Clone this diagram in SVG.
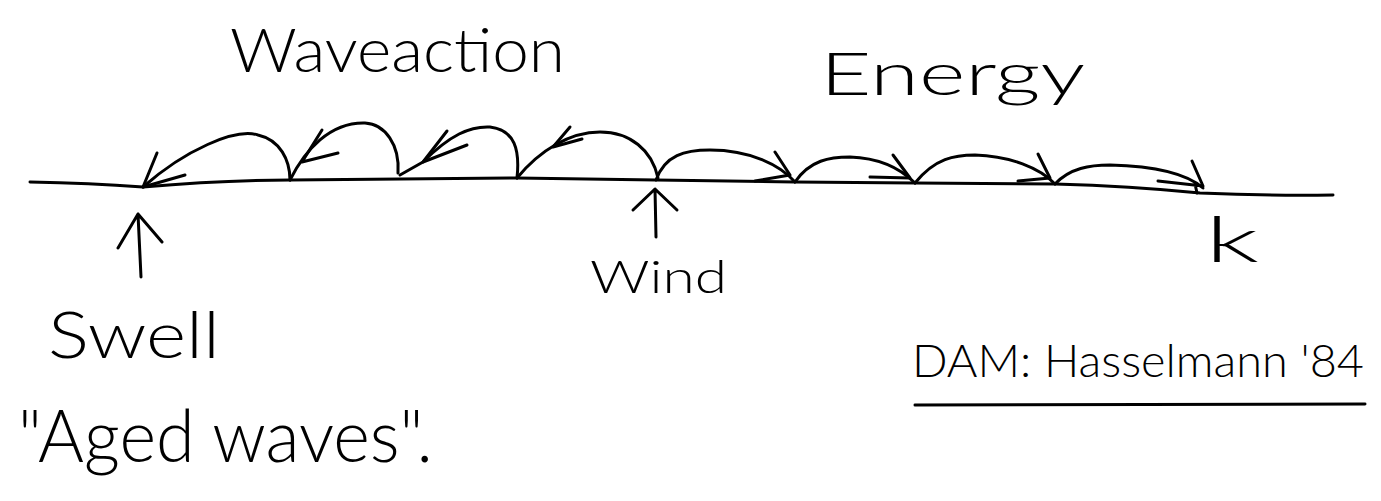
<svg xmlns="http://www.w3.org/2000/svg" width="1381" height="501" viewBox="0 0 1381 501">
<style>
.ln{fill:none;stroke:#000;stroke-width:3;stroke-linecap:round;stroke-linejoin:round}
.tx{font-family:"Lato","Open Sans","Liberation Sans",sans-serif;font-weight:300;fill:#000}
</style>
<rect width="1381" height="501" fill="#fff"/>
<g id="axis">
<path class="ln" d="M30,182 Q90,183 143,187 Q220,180 290,180 L517,178 L656,180 L795,182 L915,183 L1055,184 Q1130,186 1200,193 Q1270,196 1333,195"/>
</g>
<g id="connectors">
<!-- waveaction arcs (leftward) -->
<path class="ln" d="M290,180 C290,160 280,140 258,135 C235,128 185,150 143,187"/>
<path class="ln" d="M143,187 L157,153 M143,187 L185,175"/>
<path class="ln" d="M290,180 C305,150 330,122 365,123 C385,124 400,145 398,173"/>
<path class="ln" d="M302,162 L322,130 M302,162 L338,153"/>
<path class="ln" d="M400,175 L423,162 C450,135 470,126 490,127 C515,130 520,150 517,178"/>
<path class="ln" d="M423,162 L447,131 M423,162 L467,145"/>
<path class="ln" d="M517,178 C540,150 570,132 600,132 C630,132 652,150 658,178"/>
<path class="ln" d="M553,147 L570,127 M553,147 L582,139"/>
<!-- energy arcs (rightward) -->
<path class="ln" d="M656,180 C665,155 685,150 710,150 C750,150 780,165 795,182"/>
<path class="ln" d="M790,175 L775,152 M790,175 L755,181"/>
<path class="ln" d="M795,182 C810,160 830,157 850,157 C880,158 900,168 915,183"/>
<path class="ln" d="M910,178 L893,155 M910,178 L870,177"/>
<path class="ln" d="M915,183 C935,158 955,155 975,155 C1010,156 1040,168 1055,184"/>
<path class="ln" d="M1050,178 L1038,154 M1050,178 L1018,181"/>
<path class="ln" d="M1055,184 C1070,168 1090,165 1110,165 C1150,166 1185,172 1203,188"/>
<path class="ln" d="M1203,186 L1192,161 M1203,186 L1158,181 M1195,184 L1197,193"/>
<!-- up arrows -->
<path class="ln" d="M141,277 L138,214 M118,248 L138,214 L162,242"/>
<path class="ln" d="M656,237 L655,189 M633,210 L655,189 L677,210"/>
</g>
<g id="labels">
<text class="tx" x="230" y="72" font-size="62" textLength="335" lengthAdjust="spacingAndGlyphs">Waveaction</text>
<text class="tx" x="820" y="95" font-size="60" textLength="265" lengthAdjust="spacingAndGlyphs">Energy</text>
<text class="tx" x="1205" y="262" font-size="64" textLength="54" lengthAdjust="spacingAndGlyphs">k</text>
<text class="tx" x="590" y="293" font-size="46" textLength="137" lengthAdjust="spacingAndGlyphs">Wind</text>
<text class="tx" x="48" y="358" font-size="66" textLength="172" lengthAdjust="spacingAndGlyphs">Swell</text>
<text class="tx" x="18" y="462" font-size="72" textLength="415" lengthAdjust="spacingAndGlyphs">"Aged waves".</text>
<text class="tx" x="912" y="377" font-size="46" textLength="452" lengthAdjust="spacingAndGlyphs">DAM: Hasselmann '84</text>
<path class="ln" d="M915,405 L1365,404"/>
</g>
</svg>
